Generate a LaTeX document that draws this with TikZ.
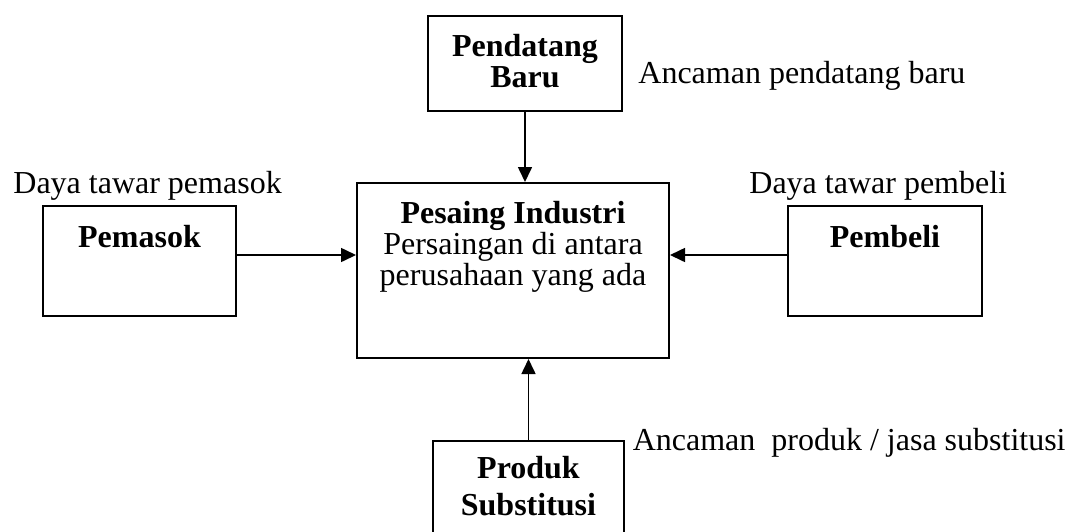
\documentclass[tikz,border=0pt]{standalone}
\usepackage{fontspec}
\setmainfont{Liberation Serif}
\usetikzlibrary{arrows.meta,calc}
\tikzset{
  box/.style={draw, line width=1pt, inner sep=0pt, fill=none},
  lbl/.style={inner sep=0pt, font=\fontsize{16}{18}\selectfont},
  blbl/.style={inner sep=0pt, font=\fontsize{16}{18}\selectfont\bfseries},
  arr/.style={line width=0.8pt, -{Triangle[length=7.5pt,width=7pt]}}
}
\begin{document}
\begin{tikzpicture}[x=0.5pt,y=-0.5pt]
\clip (0,0) rectangle (1071,531);
\fill[white] (0,0) rectangle (1071,531);
% boxes
\node[box, minimum width=97pt, minimum height=47.5pt] (nb) at (525,63.5) {};
\node[box, minimum width=96.5pt, minimum height=55pt] (pm) at (139.5,261) {};
\node[box, minimum width=156pt, minimum height=87.5pt] (pi) at (513,270.5) {};
\node[box, minimum width=97pt, minimum height=55pt] (pb) at (885,261) {};
\node[box, minimum width=95.5pt, minimum height=60pt] (ps) at (528.5,501) {};
% box texts
\node[blbl, anchor=base] (nb1) at (525,56) {Pendatang};
\node[blbl, anchor=base] (nb2) at (525,87) {Baru};
\node[blbl, anchor=base] (pm1) at (139.5,247) {Pemasok};
\node[blbl, anchor=base] (pb1) at (885,247) {Pembeli};
\node[blbl, anchor=base] (pi1) at (513,223) {Pesaing Industri};
\node[lbl, anchor=base] (pi2) at (513,254) {Persaingan di antara};
\node[lbl, anchor=base] (pi3) at (513,285) {perusahaan yang ada};
\node[blbl, anchor=base] (ps1) at (528.5,478) {Produk};
\node[blbl, anchor=base] (ps2) at (528.5,515) {Substitusi};
% outside labels
\node[lbl, anchor=base west] (l1) at (638,83) {Ancaman pendatang baru};
\node[lbl, anchor=base west] (l2) at (13,193) {Daya tawar pemasok};
\node[lbl, anchor=base west] (l3) at (749,193) {Daya tawar pembeli};
\node[lbl, anchor=base east] (l4) at (1066,450) {Ancaman\ \ produk / jasa substitusi};
% arrows
\draw[arr] (nb.south) -- (nb.south |- pi.north);
\draw[arr] ([yshift=3pt]pm.east) -- ([yshift=3pt]pm.east -| pi.west);
\draw[arr] ([yshift=3pt]pb.west) -- ([yshift=3pt]pb.west -| pi.east);
\draw[arr] (ps.north) -- (ps.north |- pi.south);
\end{tikzpicture}
\end{document}
